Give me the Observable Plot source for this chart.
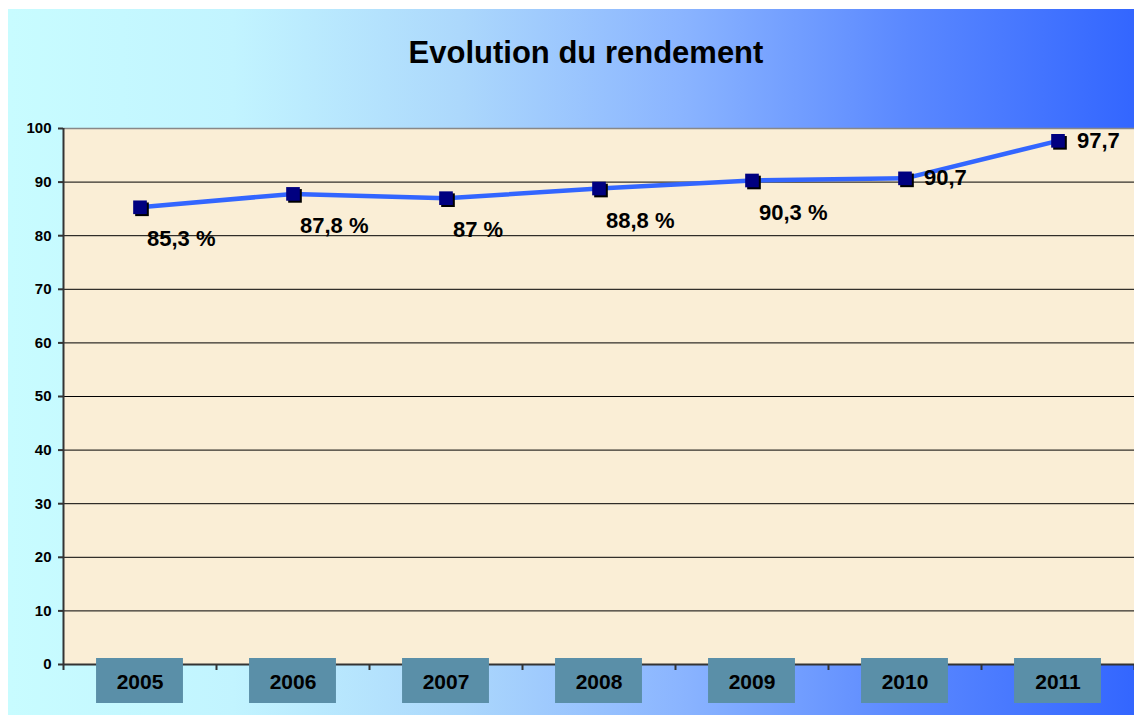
<!DOCTYPE html>
<html><head><meta charset="utf-8">
<script src="https://cdn.jsdelivr.net/npm/d3@7"></script>
<script src="https://cdn.jsdelivr.net/npm/@observablehq/plot@0.6"></script>
<style>
html,body{margin:0;padding:0;background:#fff;}
#chart{position:absolute;left:8px;top:9px;width:1126px;height:706px;
  background:linear-gradient(to right,#c8fcff 0%,#c2f4ff 20%,#acd8fc 40%,#8ab4ff 60%,#5a88ff 80%,#3366ff 100%);
  font-family:"Liberation Sans",Arial,sans-serif;color:#000;}
#title{position:absolute;left:30px;right:0;top:26px;line-height:36px;text-align:center;font-weight:bold;font-size:31px;}
#plot{position:absolute;left:0;top:100px;}
</style></head>
<body>
<div id="chart"><div id="title">Evolution du rendement</div><div id="plot"></div></div>
<script>
const years = [2005, 2006, 2007, 2008, 2009, 2010, 2011];
const values = [85.3, 87.8, 87, 88.8, 90.3, 90.7, 97.7];
const labels = ["85,3 %", "87,8 %", "87 %", "88,8 %", "90,3 %", "90,7", "97,7"];
const yTicks = [0, 10, 20, 30, 40, 50, 60, 70, 80, 90, 100];

const data = years.map((year, i) => ({year, value: values[i], label: labels[i]}));
const boundaries = [years[0] - 0.5, ...years.map(y => y + 0.5)];
const half = 0.284;

const chart = Plot.plot({
  width: 1126, height: 606,
  marginLeft: 55, marginRight: 0, marginTop: 19, marginBottom: 51,
  style: {fontFamily: '"Liberation Sans", Arial, sans-serif', color: "#000", background: "transparent", overflow: "visible"},
  x: {type: "linear", domain: [years[0] - 0.5, years[years.length - 1] + 0.5], axis: null},
  y: {domain: [0, 100], axis: null},
  marks: [
    Plot.frame({fill: "#faeed6", stroke: null}),
    Plot.ruleY(yTicks.filter(t => t > 0 && t < 100), {stroke: "#000", strokeWidth: 1}),
    Plot.ruleY([100], {stroke: "#888", strokeWidth: 1.5}),
    Plot.axisY({ticks: yTicks, tickSize: 5, tickPadding: 7, fontSize: 15, fontWeight: "bold", label: null, stroke: "#333", strokeWidth: 2}),
    Plot.ruleX([boundaries[0]], {stroke: "#333", strokeWidth: 2}),
    Plot.ruleY([0], {stroke: "#333", strokeWidth: 2}),
    Plot.ruleX(boundaries, {y1: 0, y2: 0, insetBottom: -6, stroke: "#333", strokeWidth: 2}),
    Plot.rect(years, {x1: d => d - half, x2: d => d + half, insetTop: 530, insetBottom: -39, fill: "#5a8fa8"}),
    Plot.text(years, {x: d => d, frameAnchor: "bottom", lineAnchor: "middle", dy: 18, text: d => String(d), fontSize: 21, fontWeight: "bold", fill: "#000"}),
    Plot.line(data, {x: "year", y: "value", stroke: "#3366ff", strokeWidth: 4.5}),
    Plot.dot(data, {x: "year", y: "value", symbol: "square", r: 7.7, fill: "#000", stroke: null, dx: 2, dy: 2}),
    Plot.dot(data, {x: "year", y: "value", symbol: "square", r: 7.7, fill: "#000080", stroke: null}),
    Plot.text(data, {filter: d => d.label.endsWith("%"), x: "year", y: "value", text: "label", textAnchor: "start", dx: 7, dy: 32, fontSize: 22, fontWeight: "bold", fill: "#000"}),
    Plot.text(data, {filter: d => !d.label.endsWith("%"), x: "year", y: "value", text: "label", textAnchor: "start", dx: 19, dy: 0, fontSize: 22, fontWeight: "bold", fill: "#000"})
  ]
});
document.getElementById("plot").appendChild(chart);
</script>
</body></html>
